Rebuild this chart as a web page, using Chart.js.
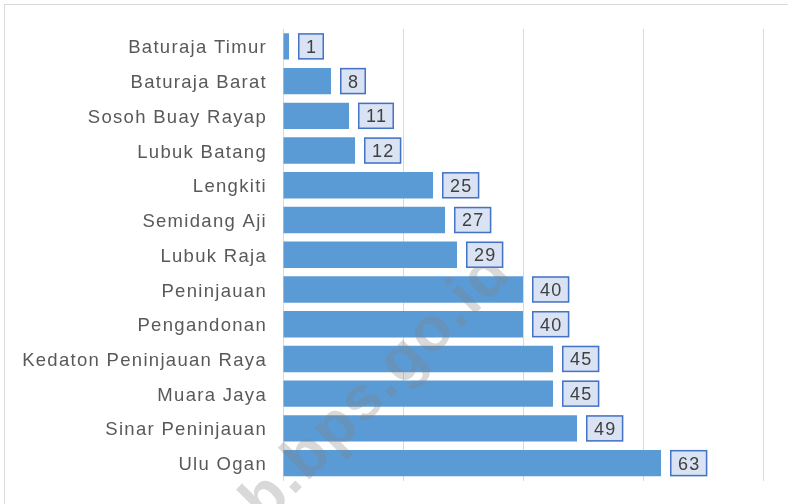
<!DOCTYPE html>
<html>
<head>
<meta charset="utf-8">
<script src="https://cdn.jsdelivr.net/npm/chart.js@4.4.1/dist/chart.umd.min.js"></script>
<style>
  body { margin: 0; background: #fff; overflow: hidden; }
  #bingkai { position: absolute; left: 4px; top: 4px; width: 900px; height: 600px; border: 1px solid #d9d9d9; }
  #wadah { position: absolute; left: 0; top: 0; width: 788px; height: 504px; }
</style>
</head>
<body>
<div id="bingkai"></div>
<div id="wadah"><canvas id="grafik"></canvas></div>
<script>
/// data kecamatan ///
const kecamatan = [
  "Baturaja Timur", "Baturaja Barat", "Sosoh Buay Rayap", "Lubuk Batang",
  "Lengkiti", "Semidang Aji", "Lubuk Raja", "Peninjauan", "Pengandonan",
  "Kedaton Peninjauan Raya", "Muara Jaya", "Sinar Peninjauan", "Ulu Ogan"
];
const jumlah = [1, 8, 11, 12, 25, 27, 29, 40, 40, 45, 45, 49, 63];
const tickX = [0, 20, 40, 60, 80];

const huruf = "Liberation Sans, Arial, sans-serif";

// spasi huruf seperti di excel
const spasiHuruf = {
  id: "spasiHuruf",
  beforeDraw(chart) {
    chart.ctx.letterSpacing = "1.3px";
  }
};

// tanda air (di atas batang, di bawah label)
const tandaAir = {
  id: "tandaAir",
  afterDatasetsDraw(chart) {
    const ctx = chart.ctx;
    ctx.save();
    ctx.letterSpacing = "2px";
    ctx.translate(300, 489);
    ctx.rotate(-45 * Math.PI / 180);
    ctx.font = "bold 62px " + huruf;
    ctx.fillStyle = "rgba(128,128,128,0.3)";
    ctx.textBaseline = "alphabetic";
    ctx.textAlign = "left";
    ctx.fillText("b.bps.go.id", -50, 0);
    ctx.restore();
  }
};

// label nilai dalam kotak di ujung batang
const labelNilai = {
  id: "labelNilai",
  afterDatasetsDraw(chart) {
    const ctx = chart.ctx;
    const meta = chart.getDatasetMeta(0);
    ctx.save();
    ctx.letterSpacing = "1.3px";
    ctx.font = "18px " + huruf;
    meta.data.forEach((bar, i) => {
      const p = bar.getProps(["x", "y", "height"], true);
      const teks = String(jumlah[i]);
      const lebarTeks = ctx.measureText(teks).width - 1.3;
      const w = lebarTeks + 16;
      const h = p.height;
      const x0 = p.x + 9;
      const y0 = p.y - h / 2;
      ctx.fillStyle = "#DAE3F3";
      ctx.fillRect(x0, y0, w, h);
      ctx.strokeStyle = "#4472C4";
      ctx.lineWidth = 1.5;
      ctx.strokeRect(x0 + 0.75, y0 + 0.75, w - 1.5, h - 1.5);
      ctx.fillStyle = "#404040";
      ctx.textAlign = "left";
      ctx.textBaseline = "middle";
      ctx.fillText(teks, x0 + 8, p.y + 1.5);
    });
    ctx.restore();
  }
};

const config = {
  type: "bar",
  data: {
    labels: kecamatan,
    datasets: [{
      data: jumlah,
      backgroundColor: "#5B9BD5",
      borderWidth: 0,
      barPercentage: 0.76,
      categoryPercentage: 1
    }]
  },
  options: {
    indexAxis: "y",
    responsive: true,
    maintainAspectRatio: false,
    animation: false,
    layout: { padding: { left: 0, right: 25, top: 29, bottom: 23.5 } },
    plugins: { legend: { display: false }, tooltip: { enabled: false } },
    scales: {
      x: {
        min: 0,
        max: 80,
        afterBuildTicks: (s) => { s.ticks = tickX.map(v => ({ value: v })); },
        afterFit: (s) => { s.height = 0; },
        ticks: { display: false },
        grid: { color: "#D9D9D9", lineWidth: 1, drawTicks: false },
        border: { display: false }
      },
      y: {
        afterFit: (s) => {
          s.width = 283;
          s.paddingTop = 0;
          s.paddingBottom = 0;
        },
        grid: { display: false, drawTicks: false },
        border: { display: true, color: "#D9D9D9", width: 1 },
        ticks: {
          color: "#595959",
          padding: 16,
          labelOffset: 2,
          font: { family: huruf, size: 18.5 }
        }
      }
    }
  },
  plugins: [spasiHuruf, tandaAir, labelNilai]
};

new Chart(document.getElementById("grafik"), config);
</script>
</body>
</html>
